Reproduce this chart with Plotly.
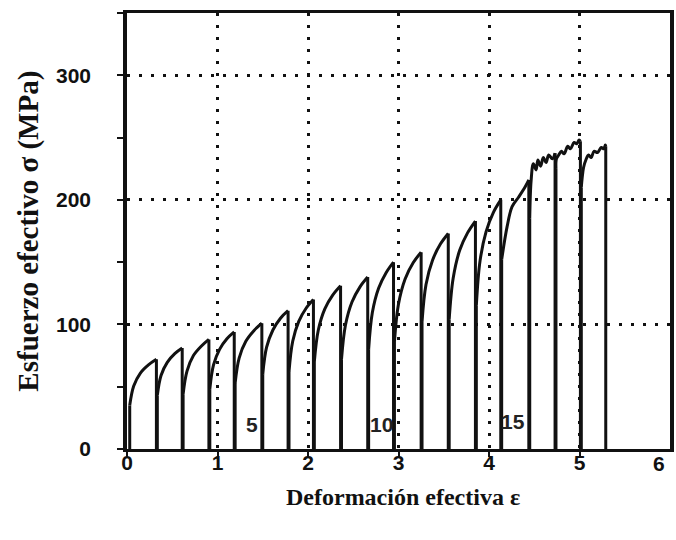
import plotly.graph_objects as go

# Effective strain / stress readings for each rolling pass (18 passes).
# Each pass: strain values along the loading curve and matching stress (MPa).
arc_x = [
    [0.03, 0.074, 0.148, 0.237, 0.325],
    [0.335, 0.376, 0.445, 0.528, 0.61],
    [0.62, 0.663, 0.734, 0.82, 0.905],
    [0.915, 0.956, 1.023, 1.104, 1.185],
    [1.195, 1.239, 1.313, 1.402, 1.49],
    [1.50, 1.542, 1.612, 1.696, 1.78],
    [1.79, 1.831, 1.898, 1.979, 2.06],
    [2.07, 2.114, 2.186, 2.273, 2.36],
    [2.37, 2.414, 2.486, 2.573, 2.66],
    [2.67, 2.711, 2.78, 2.863, 2.945],
    [2.955, 2.999, 3.073, 3.162, 3.25],
    [3.26, 3.304, 3.376, 3.463, 3.55],
    [3.56, 3.604, 3.676, 3.763, 3.85],
    [3.86, 3.901, 3.968, 4.049, 4.13],
    [4.14, 4.20, 4.255, 4.33, 4.40, 4.44],
    [4.45, 4.465, 4.49, 4.52, 4.54, 4.57, 4.60, 4.63, 4.66, 4.70, 4.73],
    [4.74, 4.745, 4.77, 4.80, 4.83, 4.87, 4.90, 4.94, 4.97, 4.995, 5.01],
    [5.02, 5.03, 5.045, 5.07, 5.10, 5.13, 5.16, 5.20, 5.24, 5.27, 5.285, 5.29],
]
arc_y = [
    [35, 50.5, 61, 67.5, 72],
    [43, 59, 69.5, 76.5, 81],
    [44, 62.5, 75, 82.5, 88],
    [48, 67.5, 80, 88.5, 94],
    [53, 73, 86.5, 95, 101],
    [60, 81.5, 95.5, 105, 111],
    [62, 86.5, 102.5, 113, 120],
    [70, 95.5, 112.5, 123.5, 131],
    [72, 99.5, 118, 130, 138],
    [80, 109.5, 129, 141.5, 150],
    [86, 116, 136.5, 149.5, 158],
    [102, 132, 151.5, 164.5, 173],
    [104, 137, 159.5, 173.5, 183],
    [115, 151, 174.5, 190, 200],
    [152, 178.5, 194.5, 202.5, 210.5, 216],
    [185, 215, 229, 224, 232, 227, 234, 230, 236, 233, 237.5],
    [225, 233, 236, 239, 237, 243, 241, 246, 245, 248, 247],
    [210, 218, 226, 232, 236, 234, 239, 238, 242, 241, 244, 243],
]

# Pass numbers written inside the plot
pass_labels = ["5", "10", "15"]
pass_label_x = [1.38, 2.81, 4.27]
pass_label_y = [20, 20, 22]

x_ticks = [0, 1, 2, 3, 4, 5]
y_ticks = [0, 100, 200, 300]

INK = "#111111"

# Loading curves (smooth) separated by gaps
curve_x, curve_y = [], []
for xs, ys in zip(arc_x, arc_y):
    curve_x += xs + [None]
    curve_y += ys + [None]

# Elastic loading and unloading segments between passes
drop_x, drop_y = [], []
for xs, ys in zip(arc_x, arc_y):
    drop_x += [xs[0], xs[0], None, xs[-1], xs[-1]]
    drop_y += [0, ys[0], None, ys[-1], 0]

fig = go.Figure()
fig.add_trace(go.Scatter(
    x=drop_x, y=drop_y, mode="lines",
    line=dict(color=INK, width=3), connectgaps=False,
    hoverinfo="skip", showlegend=False,
))
fig.add_trace(go.Scatter(
    x=curve_x, y=curve_y, mode="lines",
    line=dict(color=INK, width=3, shape="spline", smoothing=1.0),
    connectgaps=False, showlegend=False,
))

tick_font = dict(family="Liberation Sans, Arial, sans-serif", size=21, color=INK, weight="bold")
title_font = dict(family="Liberation Serif, Times New Roman, serif", color=INK, weight="bold")

fig.update_xaxes(
    range=[0, 6], tickvals=x_ticks, ticktext=[str(v) for v in x_ticks],
    showline=True, linecolor=INK, linewidth=3, mirror=True,
    ticks="outside", ticklen=5, tickwidth=2, tickcolor=INK,
    showgrid=True, gridcolor=INK, gridwidth=2.5, griddash="3px,9px",
    zeroline=False, tickfont=tick_font, ticklabelstandoff=-12,
)
fig.update_yaxes(
    range=[0, 350], tickvals=y_ticks, ticktext=[str(v) for v in y_ticks],
    showline=True, linecolor=INK, linewidth=3.5, mirror=True,
    ticks="outside", ticklen=6, tickwidth=2, tickcolor=INK,
    minor=dict(dtick=50, ticks="outside", ticklen=6, tickwidth=2, tickcolor=INK, showgrid=False),
    showgrid=True, gridcolor=INK, gridwidth=2.5, griddash="3px,9px",
    zeroline=False, tickfont=tick_font, ticklabelstandoff=22,
)

annotations = []
for txt, lx, ly in zip(pass_labels, pass_label_x, pass_label_y):
    annotations.append(dict(
        x=lx, y=ly, xref="x", yref="y", text=txt, showarrow=False,
        font=dict(family="Liberation Sans, Arial, sans-serif", size=21, color="#222222", weight="bold"),
    ))
# last strain tick label, kept inside the page
annotations.append(dict(
    x=6, y=0, xref="x", yref="paper", text="6", showarrow=False,
    yanchor="top", xanchor="center", xshift=-11, yshift=-1,
    font=tick_font,
))
annotations.append(dict(
    x=0.508, y=-0.11, xref="paper", yref="paper", text="Deformación efectiva ε",
    showarrow=False, xanchor="center", yanchor="middle",
    font=dict(size=24, **title_font),
))
annotations.append(dict(
    x=-0.183, y=0.5, xref="paper", yref="paper", text="Esfuerzo efectivo σ (MPa)",
    showarrow=False, xanchor="center", yanchor="middle", textangle=-90,
    font=dict(size=29, **title_font),
))

fig.update_layout(
    width=676, height=540,
    margin=dict(l=127, r=2, t=13, b=91),
    paper_bgcolor="white", plot_bgcolor="white",
    annotations=annotations,
    showlegend=False,
)

fig.write_html("out.html")
